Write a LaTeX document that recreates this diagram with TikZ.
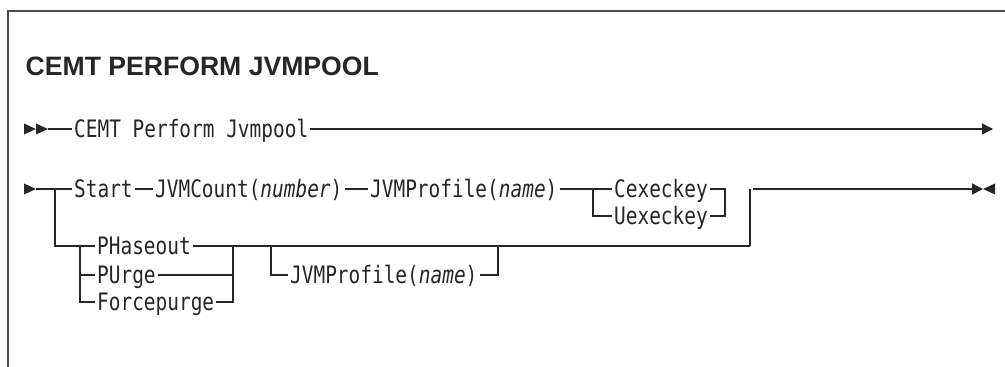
\documentclass[tikz,border=0pt]{standalone}
\usepackage{fontspec}
\setmainfont{Liberation Sans}
\newfontfamily\synfont[FakeStretch=0.81]{DejaVu Sans Mono}
\usetikzlibrary{arrows.meta}
\begin{document}
\begin{tikzpicture}[x=1pt, y=-1pt, >={Triangle[length=11pt,width=11pt]},
  line width=1.3pt, color=black!85,
  kw/.style={font=\synfont\fontsize{24}{26}\selectfont, anchor=west, inner xsep=1.5pt, inner ysep=0pt, text height=17.5pt, text depth=0pt}]
\useasboundingbox (0,0) rectangle (1005,367);
\draw[gray!60!black, line width=1.5pt] (1005,11) -- (8,11) -- (8,367);
\node[anchor=base west, inner sep=0pt, font=\bfseries\fontsize{26.6}{29}\selectfont] (title) at (25,75) {CEMT PERFORM JVMPOOL};
% first line
\node[kw] (cemt) at (72,129) {CEMT Perform Jvmpool};
\coordinate (s1) at (48,129);
\coordinate (e1) at (993,129);
\fill (24,123.5) -- (36,129) -- (24,134.5) -- cycle;
\fill (36,123.5) -- (48,129) -- (36,134.5) -- cycle;
\draw (s1) -- (cemt.west);
\draw[->] (cemt.east) -- (e1);
% second line
\node[kw] (start) at (72,189) {Start};
\node[kw] (count) at (153,189) {JVMCount(\textit{number})};
\node[kw] (prof) at (368,189) {JVMProfile(\textit{name})};
\node[kw] (cexec) at (612,189) {Cexeckey};
\node[kw] (uexec) at (612,216) {Uexeckey};
\node[kw] (phase) at (95,246) {PHaseout};
\node[kw] (purge) at (95,275) {PUrge};
\node[kw] (force) at (95,302) {Forcepurge};
\node[kw] (prof2) at (288,275) {JVMProfile(\textit{name})};
\coordinate (s2) at (36,189);
\coordinate (sj) at (55,189);
\coordinate (ja) at (593,189);
\coordinate (k1) at (725,189);
\coordinate (k2) at (725,216);
\coordinate (jz) at (750,189);
\coordinate (jzb) at (750,246);
\coordinate (out) at (753,189);
\coordinate (e2) at (983,189);
\coordinate (pj) at (80,246);
\coordinate (qj) at (233,246);
\coordinate (rj) at (271,246);
\coordinate (tj) at (498,246);
\fill (24,183.5) -- (36,189) -- (24,194.5) -- cycle;
\fill (995,183.5) -- (983,189) -- (995,194.5) -- cycle;
\draw (s2) -- (start.west);
\draw (start) -- (count);
\draw (count) -- (prof);
\draw (prof.east) -- (cexec.west);
\draw (ja) |- (uexec.west);
\draw (cexec.east) -- (k1) -- (k2) -- (uexec.east);
\draw (jz) -- (jzb);
\draw[->] (out) -- (e2);
% lower branch
\draw (sj) |- (pj);
\draw (pj) -- (phase.west);
\draw (pj) |- (purge.west);
\draw (pj) |- (force.west);
\draw (phase.east) -- (qj);
\draw (purge.east) -| (qj);
\draw (force.east) -| (qj);
\draw (qj) -- (jzb);
\draw (rj) |- (prof2.west);
\draw (prof2.east) -| (tj);
\end{tikzpicture}
\end{document}
